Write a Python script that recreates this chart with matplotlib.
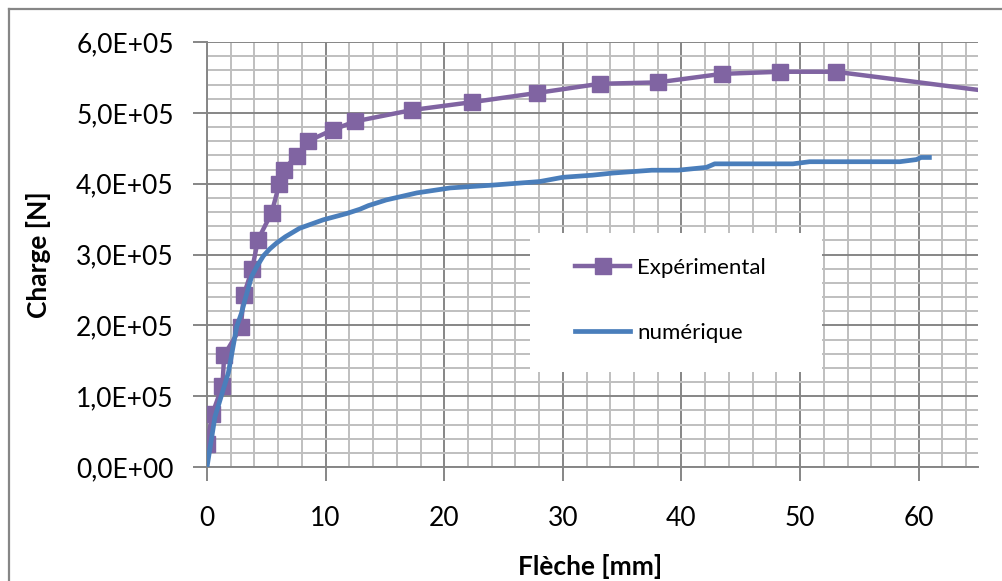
import matplotlib

matplotlib.use("Agg")
import matplotlib.pyplot as plt
from matplotlib.lines import Line2D
from matplotlib.patches import Rectangle
from matplotlib.ticker import FuncFormatter, MultipleLocator

plt.rcParams["font.family"] = ["Lato", "DejaVu Sans"]

exp_fleche = [0.0, 0.45, 1.3, 1.45, 2.85, 3.1, 3.8, 4.3, 5.45, 6.1, 6.45, 7.55,
              8.5, 10.6, 12.5, 17.3, 22.3, 27.8, 33.1, 38.0, 43.4, 48.3, 53.0, 68.0]
exp_charge = [3.3e4, 7.5e4, 1.15e5, 1.58e5, 1.97e5, 2.43e5, 2.79e5, 3.21e5, 3.59e5,
              4.0e5, 4.2e5, 4.39e5, 4.6e5, 4.76e5, 4.88e5, 5.04e5, 5.15e5, 5.28e5,
              5.41e5, 5.43e5, 5.55e5, 5.58e5, 5.58e5, 5.26e5]

# Numerical (FE) curve
num_fleche = [0.0, 0.67, 1.8, 2.5, 2.9, 3.2, 3.76, 4.2, 4.75, 5.3, 5.85, 6.6, 7.8,
              9.8, 11.8, 12.9, 13.6, 15.1, 17.7, 20.5, 24.1, 28.05, 30.0, 32.5,
              34.2, 37.5, 39.7, 42.1, 42.8, 47.1, 49.4, 50.8, 58.4, 59.8, 60.2, 60.9]
num_charge = [0.0, 0.71e5, 1.33e5, 1.98e5, 2.17e5, 2.36e5, 2.69e5, 2.83e5, 2.98e5,
              3.08e5, 3.16e5, 3.25e5, 3.37e5, 3.49e5, 3.58e5, 3.64e5, 3.69e5, 3.77e5,
              3.87e5, 3.94e5, 3.98e5, 4.03e5, 4.09e5, 4.12e5, 4.15e5, 4.19e5, 4.19e5,
              4.23e5, 4.28e5, 4.28e5, 4.28e5, 4.31e5, 4.31e5, 4.34e5, 4.37e5, 4.37e5]

PURPLE = "#8064A2"
BLUE = "#4A7EBB"
MAJOR_GRID = "#868686"
MINOR_GRID = "#BFBFBF"


def sci_comma(v, _pos):
    """Excel-style '6,0E+05' tick labels."""
    return f"{v:.1E}".replace(".", ",")


fig = plt.figure(figsize=(10.03, 5.81), dpi=100)
ax = fig.add_axes([0.2064, 0.1962, 0.7687, 0.7315])

ax.plot(exp_fleche, exp_charge, "-s", color=PURPLE, lw=3.2, ms=12,
        zorder=4, label="Expérimental")
ax.plot(num_fleche, num_charge, "-", color=BLUE, lw=3.4, zorder=5,
        solid_joinstyle="round", label="numérique")

ax.set_xlim(0, 65)
ax.set_ylim(0, 6e5)
ax.xaxis.set_major_locator(MultipleLocator(10))
ax.xaxis.set_minor_locator(MultipleLocator(2))
ax.yaxis.set_major_locator(MultipleLocator(1e5))
ax.yaxis.set_minor_locator(MultipleLocator(2e4))
ax.yaxis.set_major_formatter(FuncFormatter(sci_comma))

ax.grid(which="major", color=MAJOR_GRID, lw=1.4, zorder=1)
ax.grid(which="minor", color=MINOR_GRID, lw=1.4, zorder=0)
ax.set_axisbelow(True)

for side in ("top", "right"):
    ax.spines[side].set_visible(False)
for side in ("left", "bottom"):
    ax.spines[side].set_color(MAJOR_GRID)
    ax.spines[side].set_linewidth(1.4)

ax.tick_params(which="major", length=10, width=1.4, color=MAJOR_GRID,
               labelsize=19, pad=18)
ax.tick_params(which="minor", length=0)
ax.tick_params(axis="y", pad=14)

ax.set_xlabel("Flèche [mm]", fontsize=19, fontweight="bold")
ax.set_ylabel("Charge [N]", fontsize=19, fontweight="bold")
ax.xaxis.set_label_coords(0.497, -0.205)
ax.yaxis.set_label_coords(-0.203, 0.5)

# white legend panel sitting on the grid
ax.add_patch(Rectangle((0.419, 0.2235), 0.379, 0.327, transform=ax.transAxes,
                       facecolor="white", edgecolor="none", zorder=3))
handles = [
    Line2D([], [], color=PURPLE, lw=3.2, marker="s", ms=12),
    Line2D([], [], color=BLUE, lw=3.4),
]
ax.legend(handles, ["Expérimental", "numérique"], loc="center left",
          bbox_to_anchor=(0.477, 0.392), frameon=False, fontsize=16,
          handlelength=2.5, handletextpad=0.3, labelspacing=2.0,
          borderpad=0, borderaxespad=0)

# chart-area border (left and top edges only are visible in the crop)
W, H = 1003, 581
fig.add_artist(Line2D([9 / W, 9 / W], [0, 1 - 9 / H], color=MAJOR_GRID, lw=1.6,
                      transform=fig.transFigure))
fig.add_artist(Line2D([9 / W, 1], [1 - 9 / H, 1 - 9 / H], color=MAJOR_GRID, lw=1.6,
                      transform=fig.transFigure))

fig.savefig("out.png", dpi=100)
